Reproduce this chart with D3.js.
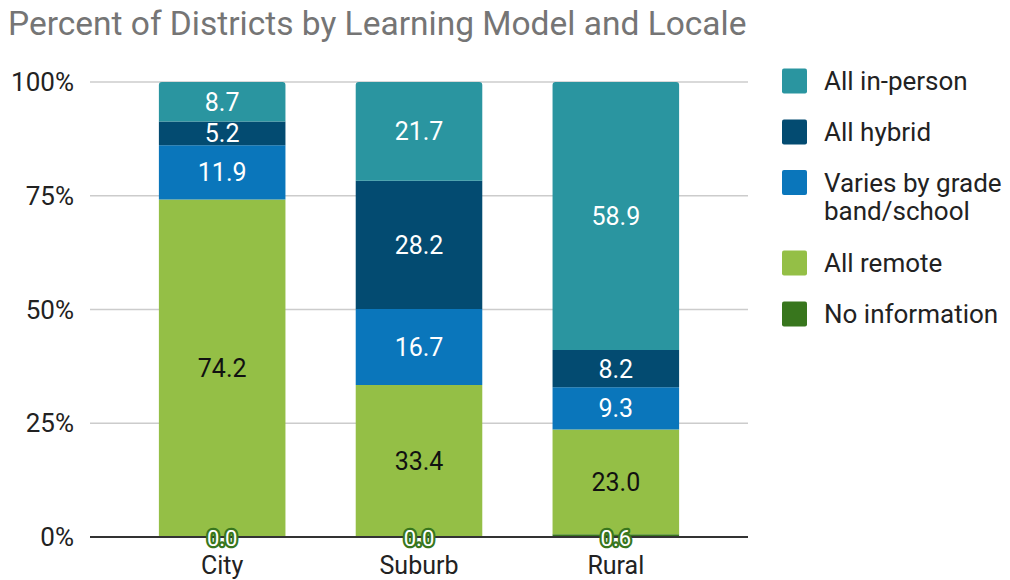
<!DOCTYPE html>
<html>
<head>
<meta charset="utf-8">
<script src="https://cdn.jsdelivr.net/npm/d3@7"></script>
<style>
  body { margin: 0; background: #fff; }
  text { font-family: Roboto, "Liberation Sans", sans-serif; }
</style>
</head>
<body>
<script>
// categories and series (stacked bottom to top)
var locales = ["City", "Suburb", "Rural"];
var seriesNames = ["No information", "All remote", "Varies by grade band/school", "All hybrid", "All in-person"];
var seriesColors = ["#38761d", "#94bf46", "#0a76bb", "#034b71", "#2a95a0"];
var noInfo = [0.0, 0.0, 0.6];
var allRemote = [74.2, 33.4, 23.0];
var varies = [11.9, 16.7, 9.3];
var allHybrid = [5.2, 28.2, 8.2];
var allInPerson = [8.7, 21.7, 58.9];
var yTicks = [0, 25, 50, 75, 100];

var width = 1010, height = 580;
var plotLeft = 90, plotRight = 748, plotTop = 82, plotBottom = 537;

var svg = d3.select("body").append("svg").attr("width", width).attr("height", height);

// build rows for the stack
var seriesValues = [noInfo, allRemote, varies, allHybrid, allInPerson];
var rows = locales.map(function (loc, i) {
  var r = { locale: loc };
  seriesNames.forEach(function (s, j) { r[s] = seriesValues[j][i]; });
  return r;
});
var stacked = d3.stack().keys(seriesNames)(rows);

var x = d3.scaleBand().domain(locales).range([plotLeft, plotRight]).paddingInner(0.357).paddingOuter(0.35);
var y = d3.scaleLinear().domain([0, 100]).range([plotBottom, plotTop]);

// title
svg.append("text").attr("x", 8).attr("y", 35)
  .attr("font-size", 33.5).attr("fill", "#757575").text("Percent of Districts by Learning Model and Locale");

// gridlines
svg.append("g").selectAll("line").data(yTicks.filter(function (d) { return d > 0; })).enter().append("line")
  .attr("x1", plotLeft).attr("x2", plotRight)
  .attr("y1", function (d) { return y(d); }).attr("y2", function (d) { return y(d); })
  .attr("stroke", "#cccccc").attr("stroke-width", 1.5);

// y axis labels
svg.append("g").selectAll("text").data(yTicks).enter().append("text")
  .attr("x", 74).attr("y", function (d) { return y(d) + 9; })
  .attr("text-anchor", "end").attr("font-size", 26).attr("fill", "#222")
  .text(function (d) { return d + "%"; });

// path with rounded top corners for the top segment
function topRounded(x0, y0, w, h, r) {
  return "M" + x0 + "," + (y0 + h) + "V" + (y0 + r) + "Q" + x0 + "," + y0 + " " + (x0 + r) + "," + y0 +
    "H" + (x0 + w - r) + "Q" + (x0 + w) + "," + y0 + " " + (x0 + w) + "," + (y0 + r) + "V" + (y0 + h) + "Z";
}

// bars
var layers = svg.append("g").selectAll("g").data(stacked).enter().append("g")
  .attr("fill", function (d, i) { return seriesColors[i]; });
layers.selectAll("path").data(function (d) { return d; }).enter().append("path")
  .attr("d", function (d, i, nodes) {
    var key = d3.select(nodes[i].parentNode).datum().key;
    var x0 = x(d.data.locale), w = x.bandwidth();
    var y0 = y(d[1]), h = y(d[0]) - y(d[1]);
    if (key === "All in-person") return topRounded(x0, y0, w, h, 3);
    return "M" + x0 + "," + y0 + "h" + w + "v" + h + "h" + (-w) + "Z";
  });

// baseline
svg.append("line").attr("x1", plotLeft).attr("x2", plotRight).attr("y1", y(0)).attr("y2", y(0))
  .attr("stroke", "#333").attr("stroke-width", 2);

// data labels
stacked.forEach(function (layer, j) {
  layer.forEach(function (d) {
    var cx = x(d.data.locale) + x.bandwidth() / 2;
    var t = svg.append("text").attr("x", cx).attr("text-anchor", "middle")
      .attr("font-size", 25).text(d.data[layer.key].toFixed(1));
    if (layer.key === "No information") {
      // small values sit on the baseline with an outline
      t.attr("y", y(d[0]) + 9).attr("font-size", 22).attr("fill", "#fff")
        .attr("stroke", seriesColors[j]).attr("stroke-width", 4.5).attr("paint-order", "stroke")
        .attr("stroke-linejoin", "round");
    } else {
      t.attr("y", (y(d[0]) + y(d[1])) / 2 + 9)
        .attr("fill", layer.key === "All remote" ? "#111" : "#fff");
    }
  });
});

// category labels
svg.append("g").selectAll("text").data(locales).enter().append("text")
  .attr("x", function (d) { return x(d) + x.bandwidth() / 2; }).attr("y", 574)
  .attr("text-anchor", "middle").attr("font-size", 25).attr("fill", "#222")
  .text(function (d) { return d; });

// legend (top to bottom)
var legendItems = [
  { name: "All in-person", lines: ["All in-person"], cy: 81 },
  { name: "All hybrid", lines: ["All hybrid"], cy: 132 },
  { name: "Varies by grade band/school", lines: ["Varies by grade", "band/school"], cy: 182.5 },
  { name: "All remote", lines: ["All remote"], cy: 263 },
  { name: "No information", lines: ["No information"], cy: 314 }
];
var legend = svg.append("g").selectAll("g").data(legendItems).enter().append("g");
legend.append("rect").attr("x", 782).attr("y", function (d) { return d.cy - 12.5; })
  .attr("width", 25).attr("height", 25).attr("rx", 2)
  .attr("fill", function (d) { return seriesColors[seriesNames.indexOf(d.name)]; });
legend.each(function (d) {
  var g = d3.select(this);
  d.lines.forEach(function (line, k) {
    g.append("text").attr("x", 824).attr("y", d.cy + 9 + k * 28)
      .attr("font-size", 26).attr("fill", "#222").text(line);
  });
});
</script>
</body>
</html>
